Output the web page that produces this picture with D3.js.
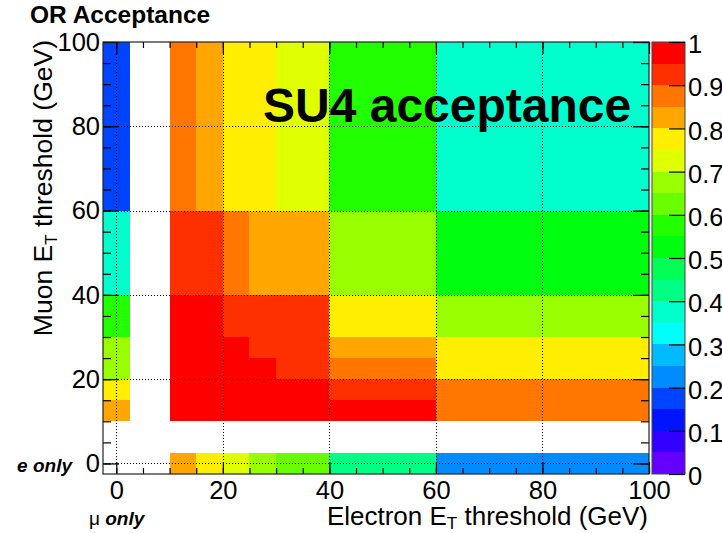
<!DOCTYPE html>
<html>
<head>
<meta charset="utf-8">
<script src="https://cdn.jsdelivr.net/npm/d3@7"></script>
<style>
  body { margin: 0; background: #fff; }
  svg { display: block; font-family: "Liberation Sans", Arial, Helvetica, sans-serif; }
</style>
</head>
<body>
<svg id="chart" width="722" height="533"></svg>
<script>
// Electron (x) and muon (y) threshold bins in GeV; the first bin of each axis holds
// the single-flavour selection ("mu only" column, "e only" row).
const electronLow  = [-2.5, 10, 15, 20, 25, 30, 35, 40, 60, 80];
const electronHigh = [ 2.5, 15, 20, 25, 30, 35, 40, 60, 80, 100];
const muonLow  = [-2.5, 10, 15, 20, 25, 30, 35, 40, 60, 80];
const muonHigh = [ 2.5, 15, 20, 25, 30, 35, 40, 60, 80, 100];

// Acceptance for each muon bin, one entry per electron bin (null = bin not filled)
const accEOnly = [null, 0.82, 0.77, 0.72, 0.67, 0.62, 0.62, 0.42, 0.22, 0.22];
const accMu10  = [0.82, 0.97, 0.97, 0.97, 0.97, 0.96, 0.96, 0.96, 0.87, 0.87];
const accMu15  = [0.77, 0.98, 0.97, 0.97, 0.97, 0.96, 0.96, 0.92, 0.87, 0.87];
const accMu20  = [0.67, 0.97, 0.97, 0.96, 0.96, 0.93, 0.93, 0.87, 0.77, 0.77];
const accMu25  = [0.67, 0.97, 0.96, 0.96, 0.93, 0.92, 0.92, 0.82, 0.77, 0.77];
const accMu30  = [0.57, 0.96, 0.96, 0.93, 0.92, 0.92, 0.91, 0.77, 0.67, 0.67];
const accMu35  = [0.57, 0.96, 0.96, 0.92, 0.92, 0.91, 0.91, 0.77, 0.67, 0.67];
const accMu40  = [0.37, 0.92, 0.92, 0.87, 0.83, 0.82, 0.82, 0.67, 0.52, 0.52];
const accMu60  = [0.17, 0.87, 0.82, 0.77, 0.77, 0.72, 0.72, 0.57, 0.37, 0.37];
const accMu80  = [0.17, 0.87, 0.82, 0.77, 0.77, 0.72, 0.72, 0.57, 0.37, 0.37];
const acceptanceRows = [accEOnly, accMu10, accMu15, accMu20, accMu25, accMu30, accMu35, accMu40, accMu60, accMu80];

// Axis ticks
const majorTicks = [0, 20, 40, 60, 80, 100];
const minorTicks = [0, 5, 10, 15, 20, 25, 30, 35, 40, 45, 50, 55, 60, 65, 70, 75, 80, 85, 90, 95, 100];
const gridTicks = [0, 20, 40, 60, 80];
const colorTicks = [0, 0.1, 0.2, 0.3, 0.4, 0.5, 0.6, 0.7, 0.8, 0.9, 1];

// 20-level rainbow palette, violet (0) to red (1)
const palette = ["#6300ff", "#3300ff", "#0014ff", "#0044ff", "#008bff", "#00bbff", "#00fffb",
                 "#00ffcc", "#00ff85", "#00ff55", "#00ff0e", "#22ff00", "#69ff00", "#99ff00",
                 "#e0ff00", "#ffee00", "#ffa700", "#ff7700", "#ff3000", "#ff0000"];
const levels = d3.range(1, 20).map(i => i / 20);

const svg = d3.select("#chart");
const plot = { left: 103, right: 649, top: 42, bottom: 474 };
const bar = { left: 652, right: 685 };

const x = d3.scaleLinear().domain([-2.5, 100]).range([plot.left, plot.right]);
const y = d3.scaleLinear().domain([-2.5, 100]).range([plot.bottom, plot.top]);
const color = d3.scaleThreshold().domain(levels).range(palette);
const z = d3.scaleLinear().domain([0, 1]).range([plot.bottom, plot.top]);

// Histogram cells
const cells = [];
acceptanceRows.forEach((row, j) => {
  row.forEach((v, i) => {
    if (v !== null) cells.push({ x0: electronLow[i], x1: electronHigh[i], y0: muonLow[j], y1: muonHigh[j], v });
  });
});

svg.append("g").attr("shape-rendering", "crispEdges")
  .selectAll("rect").data(cells).join("rect")
  .attr("x", d => x(d.x0))
  .attr("y", d => y(d.y1))
  .attr("width", d => x(d.x1) - x(d.x0))
  .attr("height", d => y(d.y0) - y(d.y1))
  .attr("fill", d => color(d.v));

// Dotted grid
const grid = svg.append("g").attr("stroke", "#000").attr("stroke-width", 1)
  .attr("stroke-dasharray", "1,2").attr("shape-rendering", "crispEdges");
grid.selectAll("line.gx").data(gridTicks).join("line").attr("class", "gx")
  .attr("x1", d => Math.round(x(d)) + 0.5).attr("x2", d => Math.round(x(d)) + 0.5)
  .attr("y1", plot.top).attr("y2", plot.bottom);
grid.selectAll("line.gy").data(gridTicks).join("line").attr("class", "gy")
  .attr("y1", d => Math.round(y(d)) + 0.5).attr("y2", d => Math.round(y(d)) + 0.5)
  .attr("x1", plot.left).attr("x2", plot.right);

// Axes with inward ticks on all four sides
function styleAxis(g) {
  g.select(".domain").remove();
  g.selectAll(".tick line").attr("stroke", "#000").attr("stroke-width", 1.2);
  g.selectAll("text").attr("font-size", 25.5).attr("fill", "#000")
    .attr("font-family", "Liberation Sans, Arial, sans-serif");
}

svg.append("g").attr("transform", `translate(0,${plot.bottom})`)
  .call(d3.axisBottom(x).tickValues(minorTicks).tickSize(-6).tickFormat(""))
  .call(styleAxis);
svg.append("g").attr("transform", `translate(0,${plot.bottom})`)
  .call(d3.axisBottom(x).tickValues(majorTicks).tickSize(-12).tickPadding(7).tickFormat(d3.format("d")))
  .call(styleAxis);
svg.append("g").attr("transform", `translate(0,${plot.top})`)
  .call(d3.axisTop(x).tickValues(minorTicks).tickSize(-6).tickFormat(""))
  .call(styleAxis);
svg.append("g").attr("transform", `translate(0,${plot.top})`)
  .call(d3.axisTop(x).tickValues(majorTicks).tickSize(-12).tickFormat(""))
  .call(styleAxis);

svg.append("g").attr("transform", `translate(${plot.left},0)`)
  .call(d3.axisLeft(y).tickValues(minorTicks).tickSize(-8).tickFormat(""))
  .call(styleAxis);
svg.append("g").attr("transform", `translate(${plot.left},0)`)
  .call(d3.axisLeft(y).tickValues(majorTicks).tickSize(-16).tickPadding(3).tickFormat(d3.format("d")))
  .call(styleAxis);
svg.append("g").attr("transform", `translate(${plot.right},0)`)
  .call(d3.axisRight(y).tickValues(minorTicks).tickSize(-8).tickFormat(""))
  .call(styleAxis);
svg.append("g").attr("transform", `translate(${plot.right},0)`)
  .call(d3.axisRight(y).tickValues(majorTicks).tickSize(-16).tickFormat(""))
  .call(styleAxis);

// Frame
svg.append("rect")
  .attr("x", plot.left).attr("y", plot.top)
  .attr("width", plot.right - plot.left).attr("height", plot.bottom - plot.top)
  .attr("fill", "none").attr("stroke", "#222").attr("stroke-width", 1.2);

// Colour scale bar
const barLevels = palette.map((c, k) => ({ lo: k / 20, hi: (k + 1) / 20, c }));
svg.append("g").attr("shape-rendering", "crispEdges")
  .selectAll("rect").data(barLevels).join("rect")
  .attr("x", bar.left).attr("width", bar.right - bar.left)
  .attr("y", d => z(d.hi)).attr("height", d => z(d.lo) - z(d.hi))
  .attr("fill", d => d.c);
svg.append("rect")
  .attr("x", bar.left).attr("y", plot.top)
  .attr("width", bar.right - bar.left).attr("height", plot.bottom - plot.top)
  .attr("fill", "none").attr("stroke", "#444").attr("stroke-width", 1);
svg.append("g").attr("transform", `translate(${bar.right},0)`)
  .call(d3.axisRight(z).tickValues(colorTicks).tickSize(-16).tickPadding(3).tickFormat(d3.format("~g")))
  .call(styleAxis)
  .call(g => g.selectAll("text").attr("dy", "0.42em"));

// Titles and annotations
svg.append("text").attr("x", 30).attr("y", 23)
  .attr("font-size", 24.5).attr("font-weight", "bold").text("OR Acceptance");

svg.append("text").attr("x", 263).attr("y", 122)
  .attr("font-size", 48).attr("font-weight", "bold").text("SU4 acceptance");

const xTitle = svg.append("text").attr("x", 648).attr("y", 525)
  .attr("text-anchor", "end").attr("font-size", 26);
xTitle.append("tspan").text("Electron E");
xTitle.append("tspan").attr("font-size", 17).attr("dy", 4).text("T");
xTitle.append("tspan").attr("dy", -4).text(" threshold (GeV)");

const yTitle = svg.append("text")
  .attr("transform", "translate(52,40) rotate(-90)")
  .attr("text-anchor", "end").attr("font-size", 26.5);
yTitle.append("tspan").text("Muon E");
yTitle.append("tspan").attr("font-size", 17).attr("dy", 5).text("T");
yTitle.append("tspan").attr("dy", -5).text(" threshold (GeV)");

svg.append("text").attr("x", 72).attr("y", 472)
  .attr("text-anchor", "end").attr("font-size", 19)
  .attr("font-weight", "bold").attr("font-style", "italic").text("e only");

const muOnly = svg.append("text").attr("x", 89).attr("y", 525).attr("font-size", 19);
muOnly.append("tspan").text("\u03bc ");
muOnly.append("tspan").attr("font-weight", "bold").attr("font-style", "italic").text("only");
</script>
</body>
</html>
